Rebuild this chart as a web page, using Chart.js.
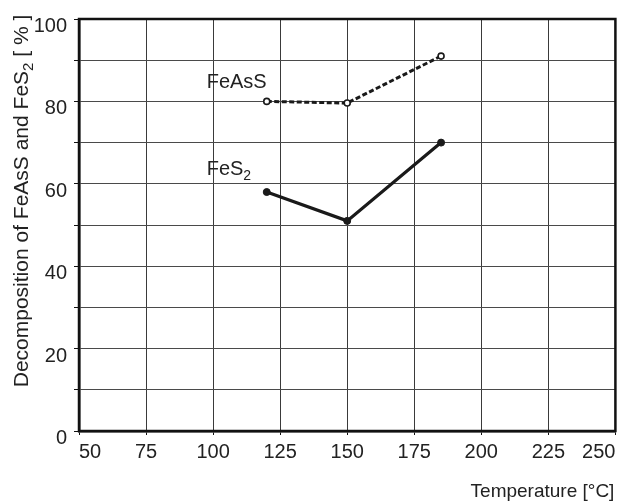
<!DOCTYPE html>
<html>
<head>
<meta charset="utf-8">
<script src="https://cdn.jsdelivr.net/npm/chart.js@4"></script>
<style>
  html, body { margin: 0; padding: 0; background: #fff; }
  #wrap { width: 621px; height: 501px; position: relative; }
</style>
</head>
<body>
<div id="wrap"><canvas id="chart"></canvas></div>
<script>
// values
const temps = [120, 150, 185];
const feass = [80, 79.6, 91];
const fes2 = [58, 51, 70];
const xTicks = [50, 75, 100, 125, 150, 175, 200, 225, 250];
const yTicks = [0, 20, 40, 60, 80, 100];

// where the two series names sit, in data units
const feassLabelAt = { x: 97.6, y: 83.2 };
const fes2LabelAt = { x: 97.6, y: 62.2 };

const FONT = "'Liberation Sans', Arial, sans-serif";

function pts(ys) {
  return temps.map((t, i) => ({ x: t, y: ys[i] }));
}

// text with subscript, drawn piece by piece
function drawSubText(ctx, parts, x, y) {
  let cx = x;
  parts.forEach(p => {
    ctx.font = p.size + 'px ' + FONT;
    ctx.fillText(p.t, cx, y + (p.dy || 0));
    cx += ctx.measureText(p.t).width;
  });
}
function subWidth(ctx, parts) {
  let w = 0;
  parts.forEach(p => {
    ctx.font = p.size + 'px ' + FONT;
    w += ctx.measureText(p.t).width;
  });
  return w;
}

const extras = {
  id: 'extras',
  afterDraw(chart) {
    const ctx = chart.ctx;
    const a = chart.chartArea;
    const xs = chart.scales.x, ys = chart.scales.y;
    ctx.save();
    // frame
    ctx.strokeStyle = '#111';
    ctx.lineWidth = 2.5;
    ctx.strokeRect(a.left, a.top, a.right - a.left, a.bottom - a.top);

    ctx.fillStyle = '#222';
    ctx.textBaseline = 'alphabetic';
    ctx.textAlign = 'left';

    // series names
    drawSubText(ctx, [{ t: 'FeAsS', size: 20 }],
      xs.getPixelForValue(feassLabelAt.x), ys.getPixelForValue(feassLabelAt.y));
    drawSubText(ctx, [{ t: 'FeS', size: 20 }, { t: '2', size: 14, dy: 5 }],
      xs.getPixelForValue(fes2LabelAt.x), ys.getPixelForValue(fes2LabelAt.y));

    // x title, right aligned
    ctx.font = '19px ' + FONT;
    ctx.textAlign = 'right';
    ctx.fillText('Temperature [°C]', a.right - 1, 497);

    // y title, rotated
    const parts = [
      { t: 'Decomposition of FeAsS and FeS', size: 21 },
      { t: '2', size: 15, dy: 5 },
      { t: ' [ % ]', size: 21 }
    ];
    ctx.textAlign = 'left';
    const w = subWidth(ctx, parts);
    ctx.translate(28, 201);
    ctx.rotate(-Math.PI / 2);
    drawSubText(ctx, parts, -w / 2, 0);
    ctx.restore();
  }
};

new Chart(document.getElementById('chart'), {
  type: 'line',
  data: {
    datasets: [
      {
        label: 'FeAsS',
        data: pts(feass),
        borderColor: '#1a1a1a',
        borderWidth: 3,
        borderDash: [5, 2.5],
        pointRadius: 3,
        pointBorderWidth: 1.6,
        pointBackgroundColor: '#fff',
        pointBorderColor: '#1a1a1a',
        tension: 0
      },
      {
        label: 'FeS2',
        data: pts(fes2),
        borderColor: '#1a1a1a',
        borderWidth: 3.2,
        pointRadius: 3.5,
        pointBorderWidth: 1,
        pointBackgroundColor: '#1a1a1a',
        pointBorderColor: '#1a1a1a',
        tension: 0
      }
    ]
  },
  options: {
    responsive: true,
    maintainAspectRatio: false,
    animation: false,
    layout: { padding: { top: 16, right: 3, left: 0, bottom: 0 } },
    scales: {
      x: {
        type: 'linear',
        min: 50,
        max: 250,
        afterBuildTicks: s => { s.ticks = xTicks.map(v => ({ value: v })); },
        afterFit: s => { s.height = 70; s.paddingLeft = 0; s.paddingRight = 0; },
        grid: { color: '#3a3a3a', lineWidth: 1, tickLength: 4, tickColor: '#111' },
        border: { color: '#111', width: 2.5 },
        ticks: {
          align: 'inner',
          padding: 5,
          color: '#222',
          font: { family: FONT, size: 20 }
        }
      },
      y: {
        min: 0,
        max: 100,
        ticks: {
          stepSize: 10,
          padding: 7,
          labelOffset: 7.5,
          color: '#222',
          font: { family: FONT, size: 20 },
          callback: v => (yTicks.includes(v) ? String(v) : '')
        },
        afterFit: s => { s.width = 79; },
        grid: { color: '#4a4a4a', lineWidth: 1, tickLength: 5, tickColor: '#111' },
        border: { color: '#111', width: 2.5 }
      }
    },
    plugins: {
      legend: { display: false },
      tooltip: { enabled: false }
    }
  },
  plugins: [extras]
});
</script>
</body>
</html>
